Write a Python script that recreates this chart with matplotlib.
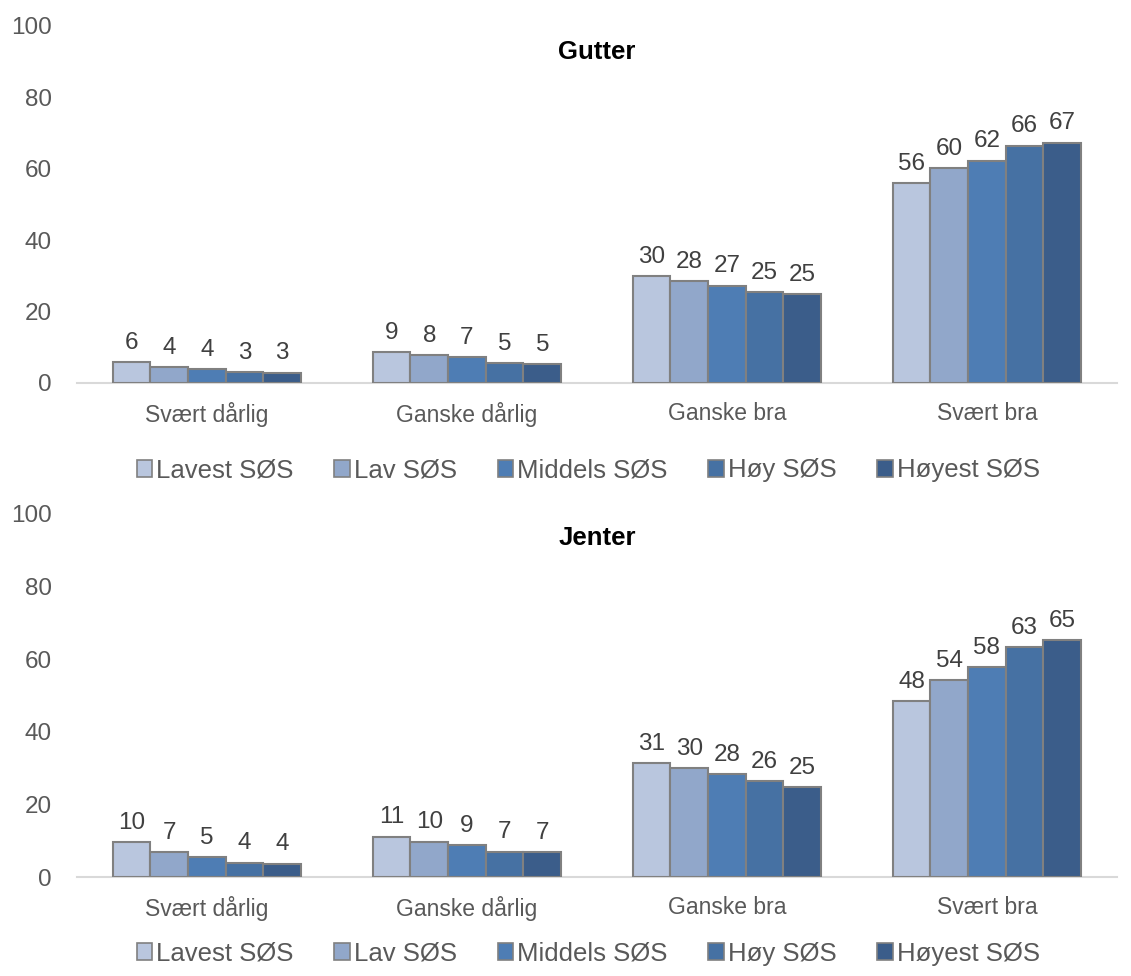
import numpy as np
import matplotlib
matplotlib.use("Agg")
import matplotlib.pyplot as plt
import matplotlib.patches as mpatches

plt.rcParams["font.family"] = ["Liberation Sans", "DejaVu Sans"]

categories = ["Svært dårlig", "Ganske dårlig", "Ganske bra", "Svært bra"]
series = ["Lavest SØS", "Lav SØS", "Middels SØS", "Høy SØS", "Høyest SØS"]

# values per series (rows) across categories (columns)
gutter = [
    [5.9, 8.7, 30.0, 56.0],
    [4.4, 7.8, 28.5, 60.2],
    [3.8, 7.2, 27.3, 62.3],
    [3.0, 5.6, 25.4, 66.5],
    [2.9, 5.3, 24.8, 67.3],
]
gutter_labels = [
    [6, 9, 30, 56],
    [4, 8, 28, 60],
    [4, 7, 27, 62],
    [3, 5, 25, 66],
    [3, 5, 25, 67],
]
jenter = [
    [9.6, 11.1, 31.3, 48.5],
    [6.9, 9.7, 30.0, 54.3],
    [5.5, 8.7, 28.4, 57.8],
    [4.0, 7.0, 26.4, 63.4],
    [3.7, 6.9, 24.7, 65.2],
]
jenter_labels = [
    [10, 11, 31, 48],
    [7, 10, 30, 54],
    [5, 9, 28, 58],
    [4, 7, 26, 63],
    [4, 7, 25, 65],
]

COLORS = ["#B9C6DE", "#91A7CA", "#4E7DB4", "#4671A3", "#3B5D8A"]
EDGE = "#808080"
TXT = "#404040"

fig = plt.figure(figsize=(11.31, 9.76), dpi=100)


def panel(rect, title, vals, labels, legend_y, title_y):
    ax = fig.add_axes(rect)
    x = np.arange(len(categories))
    w = 0.145
    for i, (name, col) in enumerate(zip(series, COLORS)):
        pos = x + (i - 2) * w
        ax.bar(pos, vals[i], width=w, color=col, edgecolor=EDGE,
               linewidth=1.5, label=name, zorder=3)
        for px, v, lb in zip(pos, vals[i], labels[i]):
            ax.annotate(str(lb), (px, v), xytext=(0, 6),
                        textcoords="offset points", ha="center",
                        va="bottom", fontsize=17.5, color=TXT)
    ax.set_xlim(-0.5, 3.5)
    ax.set_ylim(0, 100)
    ax.set_yticks(range(0, 101, 20))
    ax.set_xticks(x)
    ax.set_xticklabels(categories)
    ax.tick_params(axis="both", length=0, colors="#595959")
    ax.tick_params(axis="x", pad=14, labelsize=16.5)
    ax.tick_params(axis="y", pad=18, labelsize=17.5)
    for s in ["top", "right", "left"]:
        ax.spines[s].set_visible(False)
    ax.spines["bottom"].set_color("#D9D9D9")
    ax.spines["bottom"].set_linewidth(1.5)
    ax.text(0.5, title_y, title, transform=ax.transAxes, ha="center",
            va="center", fontsize=18.5, fontweight="bold", color="black")
    handles = [mpatches.Patch(facecolor=c, edgecolor=EDGE, linewidth=1.2,
                              label=s) for s, c in zip(series, COLORS)]
    fig.legend(handles=handles, loc="center", ncol=5,
               bbox_to_anchor=(0.52, legend_y), frameon=False,
               fontsize=18.5, handlelength=0.6, handleheight=0.6,
               handletextpad=0.15, columnspacing=1.6, labelcolor="#595959")
    return ax


panel([0.068, 0.6076, 0.9195, 0.3658], "Gutter", gutter, gutter_labels,
      0.518, 0.927)
panel([0.068, 0.1014, 0.9195, 0.372], "Jenter", jenter, jenter_labels,
      0.023, 0.935)

fig.savefig("out.png", dpi=100)
